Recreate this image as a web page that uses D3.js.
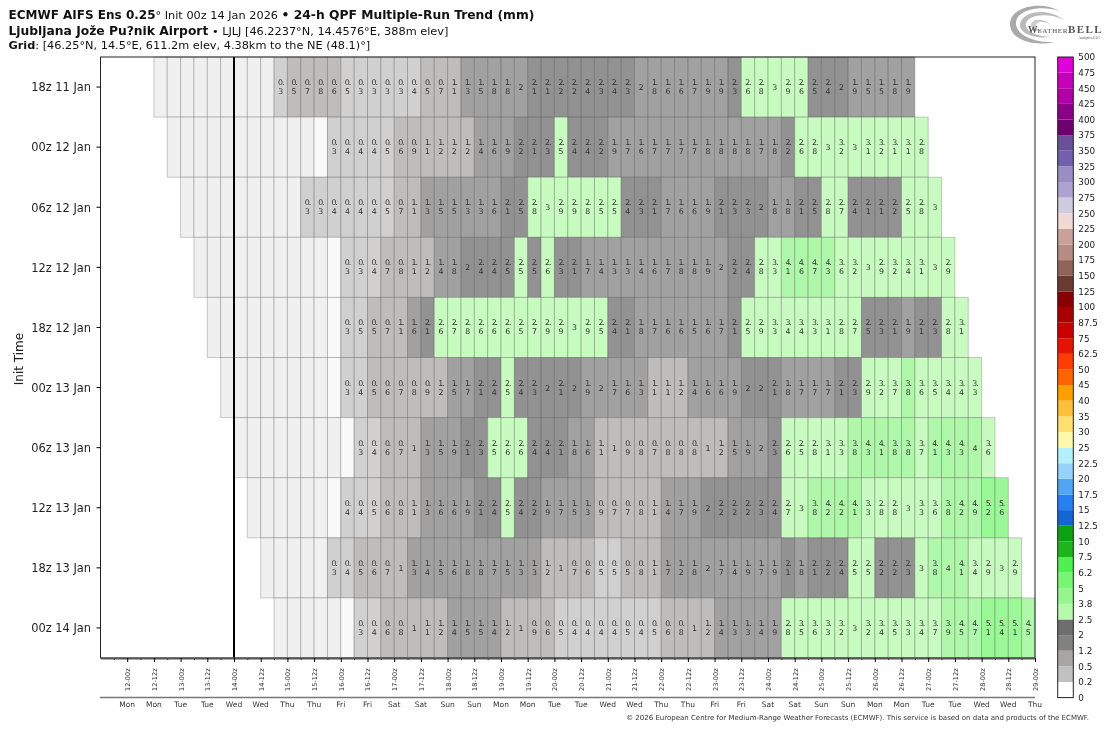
<!DOCTYPE html>
<html>
<head>
<meta charset="utf-8">
<script src="https://cdn.jsdelivr.net/npm/d3@7"></script>
<style>
  html, body { margin: 0; padding: 0; background: #fff; }
  svg { display: block; font-family: "DejaVu Sans", sans-serif; will-change: transform; }
</style>
</head>
<body>
<script>
/* 24-h QPF per run (mm): 0 = greyed out cell, 0.1 = trace, no label */
var run18z11 = [0,0,0,0,0,0,0,0,0,0.3,0.52,0.7,0.8,0.6,0.48,0.3,0.3,0.3,0.3,0.4,0.52,0.7,1.1,1.3,1.5,1.8,1.8,1.96,2.1,2.1,2.2,2.2,2.4,2.3,2.4,2.3,1.96,1.8,1.6,1.6,1.7,1.9,1.9,2.3,2.6,2.8,3,2.9,2.6,2.48,2.4,2.04,1.9,1.5,1.5,1.8,1.9];
var run00z12 = [0,0,0,0,0,0,0,0,0,0,0,0.1,0.3,0.4,0.4,0.4,0.48,0.6,0.9,1.1,1.18,1.18,1.18,1.4,1.6,1.9,2.2,2.1,2.3,2.52,2.4,2.4,2.2,1.9,1.7,1.6,1.7,1.7,1.7,1.7,1.8,1.8,1.8,1.8,1.7,1.8,2.2,2.6,2.8,3,3.2,3,3.1,3.2,3.1,3.1,2.8];
var run06z12 = [0,0,0,0,0,0,0,0,0,0.3,0.3,0.4,0.4,0.4,0.4,0.48,0.7,1.1,1.3,1.5,1.5,1.3,1.3,1.6,2.1,2.48,2.8,3,2.9,2.9,2.8,2.52,2.52,2.4,2.3,2.1,1.7,1.6,1.6,1.9,2.1,2.3,2.3,2.04,1.8,1.8,2.1,2.48,2.8,2.7,2.4,2.1,2.1,2.2,2.52,2.8,3];
var run12z12 = [0,0,0,0,0,0,0,0,0,0,0.1,0.3,0.3,0.4,0.7,0.8,1.1,1.18,1.4,1.8,2.04,2.4,2.4,2.48,2.52,2.48,2.6,2.3,2.1,1.7,1.4,1.3,1.3,1.4,1.6,1.7,1.8,1.8,1.9,1.96,2.2,2.4,2.8,3.3,4.1,4.6,4.7,4.3,3.6,3.2,3,2.9,3.2,3.4,3.1,3,2.9];
var run18z12 = [0,0,0,0,0,0,0,0,0,0.1,0.3,0.48,0.52,0.7,1.1,1.6,2.1,2.6,2.7,2.8,2.6,2.6,2.6,2.52,2.7,2.9,2.9,3,2.9,2.52,2.4,2.1,1.8,1.7,1.6,1.6,1.5,1.6,1.7,2.1,2.52,2.9,3.3,3.4,3.4,3.3,3.1,2.8,2.7,2.48,2.3,2.1,1.9,2.1,2.3,2.8,3.1];
var run00z13 = [0,0,0,0,0,0,0,0,0.1,0.3,0.4,0.52,0.6,0.7,0.8,0.9,1.18,1.5,1.7,2.1,2.4,2.52,2.4,2.3,2.04,2.1,2.04,1.9,1.96,1.7,1.6,1.3,1.1,1.1,1.18,1.4,1.6,1.6,1.9,2.04,2.04,2.1,1.8,1.7,1.7,1.7,2.1,2.3,2.9,3.2,3.7,3.82,3.6,3.5,3.4,3.4,3.3];
var run06z13 = [0,0,0,0,0,0,0,0,0.1,0.3,0.4,0.6,0.7,1,1.3,1.5,1.9,2.1,2.3,2.52,2.6,2.6,2.4,2.4,2.1,1.8,1.6,1.1,1,0.9,0.8,0.7,0.8,0.8,0.8,1,1.18,1.5,1.9,1.96,2.3,2.6,2.52,2.8,3.1,3.3,3.82,4.3,4.1,3.82,3.82,3.7,4.1,4.3,4.3,4,3.6];
var run12z13 = [0,0,0,0,0,0,0.1,0.4,0.4,0.48,0.6,0.8,1.1,1.3,1.6,1.6,1.9,2.1,2.4,2.52,2.4,2.2,1.9,1.7,1.5,1.3,0.9,0.7,0.7,0.8,1.1,1.4,1.7,1.9,2.04,2.2,2.2,2.2,2.3,2.4,2.7,3,3.82,4.2,4.2,4.1,3.3,2.8,2.8,3,3.3,3.6,3.82,4.2,4.9,5.2,5.6];
var run18z13 = [0,0,0,0,0,0.3,0.4,0.52,0.6,0.7,1,1.3,1.4,1.5,1.6,1.8,1.8,1.7,1.5,1.3,1.3,1.18,1,0.7,0.6,0.48,0.48,0.52,0.8,1.1,1.7,1.22,1.8,1.96,1.7,1.4,1.9,1.7,1.9,2.1,1.8,2.1,2.2,2.4,2.52,2.52,2.2,2.2,2.3,3,3.82,4,4.1,3.4,2.9,3,2.9];
var run00z14 = [0,0,0,0,0,0.1,0.3,0.4,0.6,0.8,1,1.1,1.18,1.4,1.5,1.5,1.4,1.18,1,0.9,0.6,0.48,0.4,0.4,0.4,0.4,0.48,0.4,0.48,0.6,0.8,1,1.18,1.4,1.3,1.3,1.4,1.9,2.8,3.5,3.6,3.3,3.2,3,3.2,3.4,3.5,3.3,3.4,3.7,3.9,4.5,4.7,5.1,5.4,5.1,4.5];
var runs = [run18z11, run00z12, run06z12, run12z12, run18z12, run00z13, run06z13, run12z13, run18z13, run00z14];

var initTimes = ["2026-01-11T18:00Z", "2026-01-12T00:00Z", "2026-01-12T06:00Z", "2026-01-12T12:00Z", "2026-01-12T18:00Z",
                 "2026-01-13T00:00Z", "2026-01-13T06:00Z", "2026-01-13T12:00Z", "2026-01-13T18:00Z", "2026-01-14T00:00Z"];

/* colour bar, bottom to top */
var qpfLevels = [0, 0.2, 0.5, 1.2, 2, 2.5, 3.8, 5, 6.2, 7.5, 10, 12.5, 15, 17.5, 20, 22.5, 25, 30, 35, 40, 45, 50, 62.5, 75, 87.5, 100, 125, 150, 175, 200, 225, 250, 275, 300, 325, 350, 375, 400, 425, 450, 475, 500];
var qpfColors = ["#ffffff", "#c0c0c0", "#aaa5a5", "#828282", "#6e6e6e", "#b4faaa", "#96f58c", "#78f573", "#50f050", "#1eb41e", "#0da010", "#1464d2", "#2680ef", "#50a5f5", "#96d2fa", "#b4f0fa", "#fff8a8", "#ffdf6e", "#ffbe3c", "#ffa000", "#ff6400", "#ff3c00", "#e41400", "#c80000", "#a80000", "#880000", "#683a30", "#8f6458", "#b88c82", "#c9a198", "#efd9d2", "#d0cce0", "#b0a2d0", "#9c8cc4", "#7260ac", "#6a5098", "#700070", "#8c0088", "#b000a8", "#c400bc", "#e000d8"];

/* Layout constants */
var width = 1108,
    height = 730;
var left = 100.5, right = 1035, top_y = 57, bottom_y = 658;
var sixHours = 6 * 3600 * 1000;
var firstLead = 18 * 3600 * 1000;

var svg = d3.select("body").append("svg")
    .attr("width", width)
    .attr("height", height);

var xScale = d3.scaleUtc()
    .domain([new Date("2026-01-11T12:00Z"), new Date("2026-01-29T00:00Z")])
    .range([left, right]);

var yScale = d3.scaleBand()
    .domain(initTimes)
    .range([top_y, bottom_y]);

var colorScale = d3.scaleThreshold()
    .domain(qpfLevels.slice(1, -1))
    .range(qpfColors);

var initFormat = d3.utcFormat("%Hz %d %b");

function cellFill(v) {
    if (v === 0) return "#f0f0f0";
    if (v < 0.2) return "#f9f9f9";
    return colorScale(v);
}

/* Cells */
var rows = svg.selectAll("g.run")
    .data(runs)
    .enter()
    .append("g")
    .attr("class", "run");

var cells = rows.selectAll("g.cell")
    .data(function(run, r) {
        var start = +new Date(initTimes[r]) + firstLead;
        return run.map(function(v, c) {
            return { v: v, t: start + c * sixHours, init: initTimes[r] };
        });
    })
    .enter()
    .append("g")
    .attr("class", "cell");

cells.append("rect")
    .attr("x", function(d) { return xScale(d.t); })
    .attr("y", function(d) { return yScale(d.init); })
    .attr("width", function(d) { return xScale(d.t + sixHours) - xScale(d.t); })
    .attr("height", yScale.bandwidth())
    .attr("fill", function(d) { return cellFill(d.v); })
    .attr("fill-opacity", function(d) { return d.v < 0.2 ? 1 : 0.75; })
    .attr("stroke", "#555")
    .attr("stroke-opacity", 0.3)
    .attr("stroke-width", 1);

/* Value labels: break after the decimal point, like the narrow cells do */
var labelled = cells.filter(function(d) { return d.v >= 0.2; })
    .append("text")
    .attr("text-anchor", "middle")
    .attr("font-size", 7.8)
    .attr("fill", "#333");

labelled.each(function(d) {
    var label = String(+d.v.toFixed(1));
    var cx = xScale(d.t + sixHours / 2);
    var cy = yScale(d.init) + yScale.bandwidth() / 2;
    var el = d3.select(this);
    if (label.length === 1) {
        el.append("tspan").attr("x", cx).attr("y", cy + 3).text(label);
    } else {
        el.append("tspan").attr("x", cx).attr("y", cy - 2).attr("letter-spacing", -1.1).text(label.slice(0, 2));
        el.append("tspan").attr("x", cx).attr("y", cy + 7).text(label.slice(2));
    }
});

/* Init line */
svg.append("line")
    .attr("x1", xScale(new Date("2026-01-14T00:00Z")))
    .attr("x2", xScale(new Date("2026-01-14T00:00Z")))
    .attr("y1", top_y)
    .attr("y2", bottom_y)
    .attr("stroke", "#000")
    .attr("stroke-width", 2);

/* Frame */
svg.append("rect")
    .attr("x", left)
    .attr("y", top_y)
    .attr("width", right - left)
    .attr("height", bottom_y - top_y)
    .attr("fill", "none")
    .attr("stroke", "#222")
    .attr("stroke-width", 1);

/* Axes */
var yAxis = d3.axisLeft(yScale)
    .tickSizeOuter(0)
    .tickSize(4)
    .tickPadding(5.5)
    .tickFormat(function(d) { return initFormat(new Date(d)); });

var yg = svg.append("g")
    .attr("transform", "translate(" + left + ",0)")
    .call(yAxis);
yg.select(".domain").remove();
yg.selectAll("text")
    .attr("font-family", "DejaVu Sans")
    .attr("font-size", 11.4)
    .attr("fill", "#222")
    .attr("y", 0.6);

var xTicks = d3.utcHour.every(12).range(new Date("2026-01-12T00:00Z"), new Date("2026-01-29T00:01Z"));
var minorTicks = d3.utcHour.every(12).range(new Date("2026-01-11T12:00Z"), new Date("2026-01-29T00:00Z"))
    .map(function(d) { return new Date(+d + sixHours); });

svg.append("g")
    .attr("transform", "translate(0," + bottom_y + ")")
    .call(d3.axisBottom(xScale).tickValues(minorTicks).tickSize(2).tickSizeOuter(0).tickFormat(""))
    .call(function(g) { g.select(".domain").remove(); });

var xg = svg.append("g")
    .attr("transform", "translate(0," + bottom_y + ")")
    .call(d3.axisBottom(xScale)
        .tickValues(xTicks)
        .tickSize(4)
        .tickSizeOuter(0)
        .tickFormat(d3.utcFormat("%d-%Hz")));
xg.select(".domain").attr("stroke", "#555").attr("stroke-width", 2);
xg.selectAll("text")
    .attr("font-family", "DejaVu Sans")
    .attr("font-size", 6.6)
    .attr("fill", "#333")
    .attr("text-anchor", "start")
    .attr("x", 0).attr("y", 0).attr("dy", 0)
    .attr("transform", "translate(2.4,33) rotate(-90)");

/* Weekdays under the date ticks */
svg.append("line")
    .attr("x1", 100).attr("x2", right)
    .attr("y1", 697.6).attr("y2", 697.6)
    .attr("stroke", "#777")
    .attr("stroke-width", 1.5);

svg.append("g").selectAll("text")
    .data(xTicks)
    .enter()
    .append("text")
    .attr("x", function(d) { return xScale(d); })
    .attr("y", 707)
    .attr("text-anchor", "middle")
    .attr("font-size", 7.5)
    .attr("fill", "#333")
    .text(d3.utcFormat("%a"));

svg.append("text")
    .attr("transform", "translate(22.5,359) rotate(-90)")
    .attr("text-anchor", "middle")
    .attr("font-size", 12)
    .attr("fill", "#222")
    .text("Init Time");

/* Colour bar */
var barScale = d3.scalePoint()
    .domain(qpfLevels)
    .range([697.6, 57]);

svg.append("g").selectAll("rect")
    .data(qpfColors)
    .enter()
    .append("rect")
    .attr("x", 1057.7)
    .attr("width", 15.6)
    .attr("y", function(d, i) { return barScale(qpfLevels[i + 1]); })
    .attr("height", function(d, i) { return barScale(qpfLevels[i]) - barScale(qpfLevels[i + 1]); })
    .attr("fill", function(d) { return d; });

svg.append("rect")
    .attr("x", 1057.7).attr("y", 57)
    .attr("width", 15.6).attr("height", 640.6)
    .attr("fill", "none")
    .attr("stroke", "#222");

var barAxis = svg.append("g")
    .attr("transform", "translate(1073.3,0)")
    .call(d3.axisRight(barScale).tickSize(0).tickPadding(5));
barAxis.select(".domain").remove();
barAxis.selectAll("text")
    .attr("font-family", "DejaVu Sans")
    .attr("font-size", 8.8)
    .attr("fill", "#222");

/* Title block */
var title = svg.append("g").attr("fill", "#111");

var line1 = title.append("text").attr("x", 8.5).attr("y", 18.5).attr("font-size", 12);
line1.append("tspan").attr("font-weight", "bold").text("ECMWF AIFS Ens 0.25");
line1.append("tspan").attr("font-size", 11.3).text("° Init 00z 14 Jan 2026 ");
line1.append("tspan").attr("font-weight", "bold").attr("font-size", 12.3).text("• 24-h QPF Multiple-Run Trend (mm)");

var line2 = title.append("text").attr("x", 8.5).attr("y", 34.5).attr("font-size", 12.3);
line2.append("tspan").attr("font-weight", "bold").text("Ljubljana Jože Pu?nik Airport");
line2.append("tspan").attr("font-size", 11.3).text(" • LJLJ [46.2237°N, 14.4576°E, 388m elev]");

var line3 = title.append("text").attr("x", 8.5).attr("y", 49).attr("font-size", 11.3);
line3.append("tspan").attr("font-weight", "bold").text("Grid");
line3.append("tspan").text(": [46.25°N, 14.5°E, 611.2m elev, 4.38km to the NE (48.1)°]");

svg.append("text")
    .attr("x", 1089)
    .attr("y", 719.5)
    .attr("text-anchor", "end")
    .attr("font-size", 7)
    .attr("fill", "#333")
    .text("© 2026 European Centre for Medium-Range Weather Forecasts (ECMWF). This service is based on data and products of the ECMWF.");

/* Logo */
var logo = svg.append("g");
logo.append("path")
    .attr("d", "M1060 11 C1040 0,1010 7,1010 24 C1010 40,1034 47,1054 42 C1036 43,1017 36,1016 24 C1015 11,1038 4,1060 11 Z")
    .attr("fill", "#aaa");
logo.append("path")
    .attr("d", "M1064 20 C1048 7,1022 11,1020 24 C1019 34,1036 39,1050 37 C1036 36,1025 31,1026 24 C1027 15,1048 12,1064 20 Z")
    .attr("fill", "#bbb");
logo.append("path")
    .attr("d", "M1052 25 C1043 17,1031 19,1031 25 C1031 30,1038 32,1044 32 C1038 30,1036 28,1036 26 C1036 21,1045 21,1052 25 Z")
    .attr("fill", "#ccc");
var logoText = logo.append("text")
    .attr("x", 1028).attr("y", 33)
    .attr("font-family", "Liberation Serif")
    .attr("font-weight", "bold")
    .attr("fill", "#555");
logoText.append("tspan").attr("font-size", 9.5).text("W");
logoText.append("tspan").attr("font-size", 6.5).attr("fill", "#777").attr("letter-spacing", 0.6).text("EATHER");
logoText.append("tspan").attr("font-size", 11).attr("letter-spacing", 1.4).text("BELL");
logo.append("text")
    .attr("x", 1100).attr("y", 39)
    .attr("text-anchor", "end")
    .attr("font-family", "Liberation Serif")
    .attr("font-size", 3.6)
    .attr("fill", "#555")
    .text("Analytics LLC");
</script>
</body>
</html>
